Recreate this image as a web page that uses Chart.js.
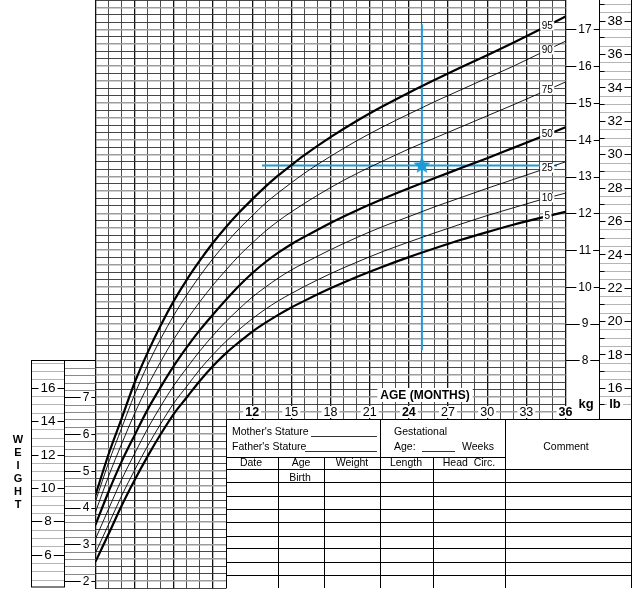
<!DOCTYPE html>
<html>
<head>
<meta charset="utf-8">
<title>Weight-for-age percentiles, birth to 36 months</title>
<script src="https://cdn.jsdelivr.net/npm/chart.js@4.4.0/dist/chart.umd.min.js"></script>
<style>
  body { margin: 0; background: #fff; }
  .chart-box { position: relative; width: 640px; height: 594px; }
</style>
</head>
<body>
<div class="chart-box"><canvas id="growth-chart"></canvas></div>
<script>
// ages in months and the weight (kg) percentiles
const ageMonths = [0, 1, 2, 3, 4, 5, 6, 7, 8, 9, 10, 11, 12, 13, 14, 15, 16, 18, 20, 22, 24, 26, 28, 30, 32, 34, 36];
const p5  = [2.53, 3.28, 4.05, 4.75, 5.40, 6.00, 6.55, 7.00, 7.45, 7.85, 8.20, 8.50, 8.78, 9.02, 9.24, 9.44, 9.62, 9.96, 10.27, 10.55, 10.81, 11.05, 11.28, 11.49, 11.69, 11.87, 12.04];
const p10 = [2.77, 3.54, 4.32, 5.02, 5.68, 6.28, 6.84, 7.30, 7.76, 8.16, 8.52, 8.84, 9.13, 9.39, 9.62, 9.82, 10.01, 10.36, 10.67, 10.96, 11.22, 11.47, 11.71, 11.94, 12.15, 12.36, 12.55];
const p25 = [3.15, 3.96, 4.76, 5.47, 6.15, 6.76, 7.32, 7.80, 8.26, 8.68, 9.06, 9.40, 9.72, 9.99, 10.24, 10.46, 10.65, 11.01, 11.34, 11.64, 11.91, 12.18, 12.43, 12.68, 12.92, 13.16, 13.40];
const p50 = [3.53, 4.43, 5.25, 5.97, 6.67, 7.28, 7.85, 8.36, 8.83, 9.25, 9.65, 10.03, 10.37, 10.67, 10.93, 11.16, 11.36, 11.74, 12.08, 12.39, 12.68, 12.96, 13.23, 13.50, 13.78, 14.06, 14.34];
const p75 = [3.88, 4.85, 5.73, 6.56, 7.31, 7.97, 8.58, 9.11, 9.60, 10.05, 10.46, 10.85, 11.19, 11.51, 11.79, 12.04, 12.27, 12.70, 13.08, 13.42, 13.75, 14.05, 14.35, 14.65, 14.95, 15.26, 15.57];
const p90 = [4.17, 5.22, 6.16, 7.08, 7.88, 8.59, 9.23, 9.79, 10.30, 10.77, 11.19, 11.58, 11.93, 12.27, 12.56, 12.83, 13.09, 13.55, 13.97, 14.35, 14.70, 15.04, 15.36, 15.68, 16.00, 16.34, 16.68];
const p95 = [4.34, 5.45, 6.42, 7.40, 8.22, 8.96, 9.62, 10.20, 10.72, 11.20, 11.63, 12.02, 12.38, 12.72, 13.03, 13.31, 13.58, 14.07, 14.51, 14.91, 15.28, 15.63, 15.97, 16.30, 16.64, 16.99, 17.35];

const percentileNames = ["5", "10", "25", "50", "75", "90", "95"];
const percentileSeries = [p5, p10, p25, p50, p75, p90, p95];
const boldPercentiles = ["5", "50", "95"];
const labelAge = 34.6;

// tick labels
const ageTicks = [12, 15, 18, 21, 24, 27, 30, 33, 36];
const boldAgeTicks = [12, 24, 36];
const kgTicksRight = [8, 9, 10, 11, 12, 13, 14, 15, 16, 17];
const lbTicksRight = [16, 18, 20, 22, 24, 26, 28, 30, 32, 34, 36, 38];
const kgTicksLeft = [2, 3, 4, 5, 6, 7];
const lbTicksLeft = [6, 8, 10, 12, 14, 16];

// the plotted measurement and its guide lines
const markAge = 25;
const markKg = 13.3;
const crossAgeRange = [12.75, 35.35];
const crossKgRange = [8.28, 17.14];

const LB_PER_KG = 2.20462;
const KG_MIN = 1.8;
const KG_MAX = 17.8;
const FONT = '"Liberation Sans", Arial, sans-serif';
const BLUE = "#1e9ad6";

function valueAt(series, month) {
  for (let i = 1; i < ageMonths.length; i++) {
    if (month <= ageMonths[i]) {
      const t = (month - ageMonths[i - 1]) / (ageMonths[i] - ageMonths[i - 1]);
      return series[i - 1] + t * (series[i] - series[i - 1]);
    }
  }
  return series[series.length - 1];
}

function makeStar(size, color) {
  const c = document.createElement("canvas");
  c.width = c.height = size;
  const g = c.getContext("2d");
  const r = size / 2, ri = r * 0.45;
  g.beginPath();
  for (let i = 0; i < 10; i++) {
    const a = -Math.PI / 2 + i * Math.PI / 5;
    const rr = i % 2 ? ri : r;
    g.lineTo(r + rr * Math.cos(a), r + rr * Math.sin(a));
  }
  g.closePath();
  g.fillStyle = color;
  g.fill();
  return c;
}

function line(ctx, x0, y0, x1, y1) {
  ctx.beginPath();
  ctx.moveTo(x0, y0);
  ctx.lineTo(x1, y1);
  ctx.stroke();
}

// "-12-" style label: a tick line broken by the number
function dashLabel(ctx, text, cx, cy, x0, x1, font) {
  ctx.strokeStyle = "#000";
  ctx.lineWidth = 1;
  line(ctx, x0, Math.round(cy) + 0.5, x1, Math.round(cy) + 0.5);
  ctx.font = font;
  const w = ctx.measureText(text).width;
  ctx.fillStyle = "#fff";
  ctx.fillRect(cx - w / 2 - 2, cy - 6, w + 4, 12);
  ctx.fillStyle = "#000";
  ctx.textAlign = "center";
  ctx.textBaseline = "middle";
  ctx.fillText(text, cx, cy + 0.5);
}

const chartDecor = {
  id: "chartDecor",
  afterDatasetsDraw(chart) {
    const ctx = chart.ctx;
    const xs = chart.scales.x, ys = chart.scales.y, lbs = chart.scales.yLb;
    ctx.save();

    // percentile labels on the curves
    ctx.font = "10px " + FONT;
    ctx.textAlign = "center";
    ctx.textBaseline = "middle";
    percentileSeries.forEach((s, i) => {
      const px = xs.getPixelForValue(labelAge);
      const py = ys.getPixelForValue(valueAt(s, labelAge));
      const w = ctx.measureText(percentileNames[i]).width;
      ctx.fillStyle = "#fff";
      ctx.fillRect(px - w / 2 - 1.5, py - 4.5, w + 3, 9);
      ctx.fillStyle = "#000";
      ctx.fillText(percentileNames[i], px, py);
    });

    const gridRight = xs.right;
    const kgColRight = 599.5;
    const lbColRight = 631.5;
    const tableTop = 419.5;

    // right lb column: light lines every half pound
    ctx.strokeStyle = "#b5b5b5";
    ctx.lineWidth = 1;
    for (let lb = 15; lb <= 39.5; lb += 0.5) {
      const py = lbs.getPixelForValue(lb);
      if (py > 1 && py < tableTop - 1) line(ctx, kgColRight, Math.round(py) + 0.5, lbColRight, Math.round(py) + 0.5);
    }
    ctx.strokeStyle = "#000";
    for (let lb = 15; lb <= 39; lb += 2) {
      const py = Math.round(lbs.getPixelForValue(lb)) + 0.5;
      if (py > 1 && py < tableTop - 1) line(ctx, kgColRight, py, kgColRight + 5, py);
    }
    line(ctx, kgColRight, 0, kgColRight, tableTop);
    line(ctx, lbColRight, 0, lbColRight, tableTop);

    kgTicksRight.forEach(kg => {
      dashLabel(ctx, String(kg), 585, ys.getPixelForValue(kg), gridRight, kgColRight, "12px " + FONT);
    });
    lbTicksRight.forEach(lb => {
      dashLabel(ctx, String(lb), 615, lbs.getPixelForValue(lb), kgColRight, lbColRight, "13.5px " + FONT);
    });

    // left panels: lb box and kg column
    const boxTop = 360.5, boxBottom = 587;
    const lbLeft = 31.5, lbRight = 64.5, gridLeft = xs.left;
    ctx.strokeStyle = "#b5b5b5";
    for (let lb = 4; lb <= 17.5; lb += 0.5) {
      const py = lbs.getPixelForValue(lb);
      if (py > boxTop + 1 && py < boxBottom - 1) line(ctx, lbLeft, Math.round(py) + 0.5, lbRight, Math.round(py) + 0.5);
    }
    ctx.strokeStyle = "#8a8a8a";
    for (let k = 9; k <= 40; k++) {
      const py = ys.getPixelForValue(k * 0.2);
      if (py > boxTop + 1 && py < boxBottom) line(ctx, lbRight, Math.round(py) + 0.5, gridLeft, Math.round(py) + 0.5);
    }
    ctx.strokeStyle = "#000";
    ctx.lineWidth = 1;
    ctx.strokeRect(lbLeft, boxTop, lbRight - lbLeft, boxBottom - boxTop);
    line(ctx, lbRight, boxTop, gridLeft, boxTop);
    lbTicksLeft.forEach(lb => {
      dashLabel(ctx, String(lb), 48, lbs.getPixelForValue(lb), lbLeft, lbRight, "13.5px " + FONT);
    });
    kgTicksLeft.forEach(kg => {
      dashLabel(ctx, String(kg), 86, ys.getPixelForValue(kg), lbRight, gridLeft, "12px " + FONT);
    });

    // WEIGHT, one letter per line
    ctx.font = "bold 11px " + FONT;
    ctx.fillStyle = "#000";
    ctx.textAlign = "center";
    ctx.textBaseline = "middle";
    "WEIGHT".split("").forEach((ch, i) => ctx.fillText(ch, 18, 440 + i * 13));

    // age axis labels
    ageTicks.forEach(a => {
      const px = xs.getPixelForValue(a);
      const bold = boldAgeTicks.includes(a);
      ctx.font = (bold ? "bold " : "") + "12.5px " + FONT;
      const w = ctx.measureText(String(a)).width;
      ctx.fillStyle = "#fff";
      ctx.fillRect(px - w / 2 - 2, 406, w + 4, 12);
      ctx.fillStyle = "#000";
      ctx.fillText(String(a), px, 412.5);
    });
    ctx.font = "bold 12px " + FONT;
    const ageTitle = "AGE (MONTHS)";
    const tw = ctx.measureText(ageTitle).width;
    ctx.fillStyle = "#fff";
    ctx.fillRect(425 - tw / 2 - 3, 388, tw + 6, 14);
    ctx.fillStyle = "#000";
    ctx.fillText(ageTitle, 425, 395.5);
    ctx.font = "bold 13px " + FONT;
    ctx.fillText("kg", 586, 404);
    ctx.fillStyle = "#fff";
    ctx.fillRect(607, 397, 16, 14);
    ctx.fillStyle = "#000";
    ctx.fillText("lb", 615, 404);

    // record table
    const tl = 226.5, tr = lbColRight, tb = 588;
    ctx.fillStyle = "#fff";
    ctx.fillRect(tl, tableTop, tr - tl, 594 - tableTop);
    ctx.strokeStyle = "#000";
    ctx.lineWidth = 1;
    line(ctx, tl, tableTop, tr, tableTop);
    line(ctx, tl, tableTop, tl, tb);
    line(ctx, tr, tableTop, tr, tb);
    line(ctx, 380.5, tableTop, 380.5, tb);
    line(ctx, 505.5, tableTop, 505.5, tb);
    line(ctx, tl, 457.5, 505.5, 457.5);
    line(ctx, tl, 469.5, tr, 469.5);
    [278.5, 324.5, 433.5].forEach(cx => line(ctx, cx, 457.5, cx, tb));
    [482.5, 496.5, 509.5, 522.5, 536.5, 548.5, 562.5, 575.5].forEach(ry => line(ctx, tl, ry, tr, ry));

    ctx.fillStyle = "#000";
    ctx.font = "10.5px " + FONT;
    ctx.textAlign = "left";
    ctx.textBaseline = "middle";
    ctx.fillText("Mother's Stature", 232, 432);
    ctx.fillText("Father's Stature", 232, 447);
    ctx.fillText("Gestational", 394, 432);
    ctx.fillText("Age:", 394, 447);
    ctx.fillText("Weeks", 462, 447);
    ctx.lineWidth = 0.8;
    line(ctx, 311, 436.5, 377, 436.5);
    line(ctx, 305, 451.5, 377, 451.5);
    line(ctx, 422, 451.5, 455, 451.5);
    ctx.textAlign = "center";
    ctx.fillText("Comment", 566, 447);
    [["Date", 251], ["Age", 301], ["Weight", 352], ["Length", 406], ["Head  Circ.", 469]].forEach(([t, cx]) => {
      ctx.fillText(t, cx, 463.5);
    });
    ctx.fillText("Birth", 300, 478);

    ctx.restore();
  }
};

const curveSets = percentileNames.map((name, i) => {
  const bold = boldPercentiles.includes(name);
  return {
    label: name,
    data: ageMonths.map((m, j) => ({ x: m, y: percentileSeries[i][j] })),
    borderColor: "#000",
    borderWidth: bold ? 2.2 : 0.9,
    pointRadius: 0,
    cubicInterpolationMode: "monotone",
    fill: false
  };
});

const guideSets = [
  {
    label: "age guide",
    data: [{ x: markAge, y: crossKgRange[0] }, { x: markAge, y: crossKgRange[1] }],
    borderColor: BLUE, borderWidth: 2, pointRadius: 0
  },
  {
    label: "weight guide",
    data: [{ x: crossAgeRange[0], y: markKg }, { x: crossAgeRange[1], y: markKg }],
    borderColor: BLUE, borderWidth: 2, pointRadius: 0
  },
  {
    label: "measurement",
    data: [{ x: markAge, y: markKg }],
    showLine: false,
    pointStyle: makeStar(18, BLUE),
    pointRadius: 9
  }
];

function isGreyRow(v) {
  const n = Math.round(v * 5);
  return n % 5 === 0 || n % 5 === 3;
}

new Chart(document.getElementById("growth-chart"), {
  type: "line",
  data: { datasets: curveSets.concat(guideSets) },
  options: {
    responsive: true,
    maintainAspectRatio: false,
    animation: false,
    events: [],
    layout: { autoPadding: false, padding: { left: 95.5, right: 74.5, top: 0, bottom: 5.5 } },
    plugins: { legend: { display: false }, tooltip: { enabled: false } },
    scales: {
      x: {
        type: "linear",
        min: 0,
        max: 36,
        ticks: { display: false, stepSize: 1, autoSkip: false },
        border: { display: false },
        grid: {
          drawTicks: false,
          color: c => (Math.round(c.tick.value) % 3 === 0 ? "#111" : "#3a3a3a"),
          lineWidth: c => (Math.round(c.tick.value) % 3 === 0 ? 1.3 : 0.9)
        }
      },
      y: {
        type: "linear",
        min: KG_MIN,
        max: KG_MAX,
        ticks: { display: false, stepSize: 0.2, autoSkip: false },
        border: { display: false },
        grid: {
          drawTicks: false,
          color: c => (isGreyRow(c.tick.value) ? "#9c9c9c" : "#333"),
          lineWidth: c => (isGreyRow(c.tick.value) ? 1.6 : 0.9)
        }
      },
      yLb: {
        type: "linear",
        display: false,
        min: KG_MIN * LB_PER_KG,
        max: KG_MAX * LB_PER_KG
      }
    }
  },
  plugins: [chartDecor]
});
</script>
</body>
</html>
